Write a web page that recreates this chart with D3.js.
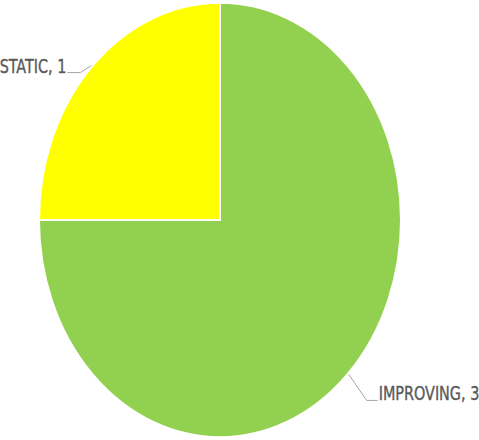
<!DOCTYPE html>
<html>
<head>
<meta charset="utf-8">
<script src="https://cdn.jsdelivr.net/npm/d3@7"></script>
<style>
  body { margin: 0; background: #fff; }
  svg { display: block; }
</style>
</head>
<body>
<svg class="chart"></svg>
<script>
// chart data
var categories = ["IMPROVING", "STATIC"];
var values = [3, 1];
var colors = ["#92d050", "#ffff00"];

var width = 479, height = 440;
var cx = 220, cy = 220, r = 181, sy = 1.2; // pie is stretched vertically

var svg = d3.select(".chart")
    .attr("width", width)
    .attr("height", height);

var data = categories.map(function (c, i) { return { name: c, value: values[i], color: colors[i] }; });

var pie = d3.pie().sort(null).value(function (d) { return d.value; });
var arc = d3.arc().innerRadius(0).outerRadius(r);
var arcs = pie(data);

var g = svg.append("g")
    .attr("transform", "translate(" + cx + "," + cy + ") scale(1," + sy + ")");

g.selectAll("path")
    .data(arcs)
    .enter().append("path")
    .attr("d", arc)
    .attr("fill", function (d) { return d.data.color; })
    .attr("stroke", "#fff")
    .attr("stroke-width", 2)
    .attr("vector-effect", "non-scaling-stroke");

// leader lines + labels (screen coords)
function edgePoint(d) {
    var a = (d.startAngle + d.endAngle) / 2;
    return [cx + Math.sin(a) * (r + 1), cy - Math.cos(a) * (r + 1) * sy];
}

var labelOpts = {
    IMPROVING: { elbow: [18, 26], tail: 11, anchor: "start", gap: 1 },
    STATIC: { elbow: [-11, 7], tail: -13, anchor: "end", gap: -1 }
};

arcs.forEach(function (d) {
    var o = labelOpts[d.data.name];
    var p0 = edgePoint(d);
    var p1 = [p0[0] + o.elbow[0], p0[1] + o.elbow[1]];
    var p2 = [p1[0] + o.tail, p1[1]];
    svg.append("path")
        .attr("d", d3.line()([p0, p1, p2]))
        .attr("fill", "none")
        .attr("stroke", "#a6a6a6")
        .attr("stroke-width", 1);
    svg.append("text")
        .attr("transform", "translate(" + (p2[0] + o.gap) + "," + p2[1] + ") scale(1," + sy + ")")
        .attr("text-anchor", o.anchor)
        .style("font-family", "'Liberation Sans Narrow', 'DejaVu Sans Condensed', sans-serif")
        .style("font-size", "16px")
        .style("stroke", "#595959")
        .style("stroke-width", 0.3)
        .style("fill", "#595959")
        .text(d.data.name + ", " + d.data.value);
});
</script>
</body>
</html>
